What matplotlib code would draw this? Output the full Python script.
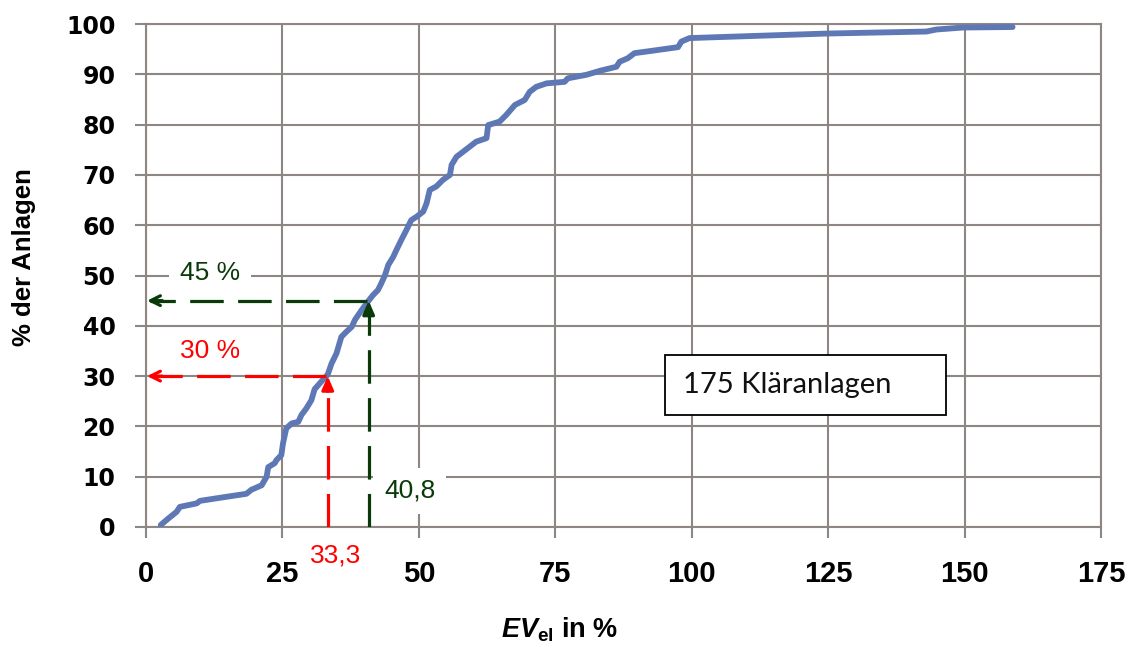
import matplotlib
matplotlib.use("Agg")
import matplotlib.pyplot as plt
from matplotlib import font_manager
from matplotlib.patches import Rectangle

# Cumulative distribution of electrical self-supply (EV_el) over 175 plants
ev_el = [2.7, 4.1, 5.6, 6.2, 9.3, 9.9, 14.1, 18.4, 19.3, 21.2, 22.1, 22.4, 23.6,
         23.9, 24.8, 25.1, 25.7, 26.7, 27.9, 28.5, 29.4, 30.3, 30.9, 32.2, 33.3,
         34.0, 34.9, 35.8, 36.7, 37.7, 38.3, 39.5, 40.8, 41.6, 42.5, 43.1, 43.8,
         44.4, 45.3, 45.9, 46.8, 47.7, 48.6, 49.6, 50.8, 51.4, 52.0, 53.2, 54.4,
         55.7, 56.0, 56.9, 58.1, 59.3, 60.5, 62.4, 62.7, 64.8, 66.0, 67.6, 69.4,
         70.3, 71.5, 73.4, 76.7, 77.3, 80.7, 83.2, 86.2, 86.8, 88.3, 89.5, 92.9,
         97.5, 98.1, 99.6, 105.1, 124.7, 143.0, 144.8, 149.7, 158.8]
share = [0.4, 1.7, 3.0, 4.0, 4.7, 5.2, 5.9, 6.6, 7.4, 8.3, 10.0, 11.9, 12.7,
         13.3, 14.3, 16.6, 19.6, 20.6, 20.9, 22.3, 23.6, 25.2, 27.4, 29.0, 30.3,
         32.5, 34.5, 37.8, 38.8, 39.8, 41.2, 43.1, 45.0, 46.1, 47.1, 48.4, 50.1,
         52.1, 53.7, 55.1, 57.1, 59.0, 61.0, 61.7, 62.7, 64.3, 67.0, 67.7, 69.0,
         70.0, 72.0, 73.6, 74.6, 75.6, 76.6, 77.3, 79.9, 80.6, 81.9, 83.9, 84.9,
         86.5, 87.5, 88.2, 88.5, 89.2, 89.9, 90.7, 91.5, 92.5, 93.2, 94.2, 94.7,
         95.4, 96.5, 97.2, 97.4, 98.1, 98.5, 98.9, 99.3, 99.4]

x_ticks = [0, 25, 50, 75, 100, 125, 150, 175]
y_ticks = [0, 10, 20, 30, 40, 50, 60, 70, 80, 90, 100]

# reading examples: (EV_el value, share of plants, label texts, colour)
red_x, red_y = 33.3, 30
green_x, green_y = 40.8, 45
red_x_label, red_y_label = "33,3", "30 %"
green_x_label, green_y_label = "40,8", "45 %"
plant_note = "175 Kläranlagen"

RED = "#FF0000"
GREEN = "#0A3A0A"
CURVE = "#5E78B6"
GRID = "#8E8683"

installed = {f.name for f in font_manager.fontManager.ttflist}
narrow = "Liberation Sans Narrow" if "Liberation Sans Narrow" in installed else "Liberation Sans"
note_font = "Lato" if "Lato" in installed else "DejaVu Sans"

plt.rcParams["mathtext.fontset"] = "custom"
plt.rcParams["mathtext.rm"] = "Liberation Sans:bold"
plt.rcParams["mathtext.it"] = "Liberation Sans:bold:italic"
plt.rcParams["mathtext.bf"] = "Liberation Sans:bold"

fig = plt.figure(figsize=(11.33, 6.45), dpi=100)
ax = fig.add_axes([146 / 1133, 1 - 527 / 645, 955 / 1133, 503 / 645])

ax.set_xlim(0, 175)
ax.set_ylim(0, 100)
ax.set_xticks(x_ticks)
ax.set_yticks(y_ticks)
ax.grid(True, color=GRID, linewidth=1.5, zorder=0)
ax.set_axisbelow(True)
for s in ax.spines.values():
    s.set_color(GRID)
    s.set_linewidth(1.5)
ax.tick_params(axis="both", color=GRID, width=1.5, length=8, direction="out")
ax.tick_params(axis="y", pad=14)
ax.tick_params(axis="x", pad=16)
for lbl in ax.get_yticklabels():
    lbl.set_fontfamily("DejaVu Sans")
    lbl.set_fontweight("bold")
    lbl.set_fontsize(17)
for lbl in ax.get_xticklabels():
    lbl.set_fontfamily(narrow)
    lbl.set_fontweight("bold")
    lbl.set_fontsize(21)

# distribution curve
ax.plot(ev_el, share, color=CURVE, linewidth=4.2, solid_capstyle="round",
        solid_joinstyle="round", zorder=3)

# text boxes with white background (drawn under the guide lines)
box = dict(boxstyle="square,pad=0.42", facecolor="white", edgecolor="none")
ax.text(11.7, 50.5, green_y_label, color=GREEN, fontsize=19, family=narrow,
        ha="center", va="center", bbox=box, zorder=2)
ax.text(11.7, 35, red_y_label, color=RED, fontsize=19, family=narrow,
        ha="center", va="center", bbox=box, zorder=2)
ax.text(48.3, 7.2, green_x_label, color=GREEN, fontsize=19, family=narrow,
        ha="center", va="center", bbox=box, zorder=2)
ax.text(red_x + 1.5, -5.7, red_x_label, color=RED, fontsize=19, family=narrow,
        ha="center", va="center", zorder=2, clip_on=False)


def guide(xv, yv, color):
    dash = dict(color=color, linewidth=2.3, dashes=(10.5, 4.5), zorder=4)
    ax.plot([xv, xv], [0, yv - 2.0], **dash)
    ax.plot([xv - 0.3, 0.8], [yv, yv], **dash)
    # open arrowhead on the value axis
    ax.annotate("", xy=(0.2, yv), xytext=(3, yv),
                arrowprops=dict(arrowstyle="->,head_length=0.7,head_width=0.35",
                                color=color, lw=2.3, shrinkA=0, shrinkB=0),
                zorder=5)
    # filled arrowhead pointing at the curve
    ax.annotate("", xy=(xv, yv), xytext=(xv, yv - 3),
                arrowprops=dict(arrowstyle="-|>,head_length=0.8,head_width=0.35",
                                color=color, lw=2.3, shrinkA=0, shrinkB=0),
                zorder=5)


guide(red_x, red_y, RED)
guide(green_x, green_y, GREEN)

# plant count note
ax.add_patch(Rectangle((0.5435, 0.2227), 0.2942, 0.1193, transform=ax.transAxes,
                       facecolor="white", edgecolor="black", linewidth=1.3,
                       zorder=6))
ax.text(0.5623, 0.2664, plant_note, transform=ax.transAxes, fontsize=21,
        family=note_font, color="#111111", ha="left", va="baseline", zorder=7)

# axis titles
fig.text(24 / 1133, 1 - 257 / 645, "% der Anlagen", rotation=90, ha="center",
         va="center", fontsize=18.5, fontweight="bold", family="Liberation Sans")
fig.text(560 / 1133, 1 - 638 / 645, r"$\mathit{EV}_{\mathrm{el}}$ in %",
         ha="center", va="baseline", fontsize=19.5, fontweight="bold",
         family="Liberation Sans")

fig.savefig("out.png", dpi=100, facecolor="white")
